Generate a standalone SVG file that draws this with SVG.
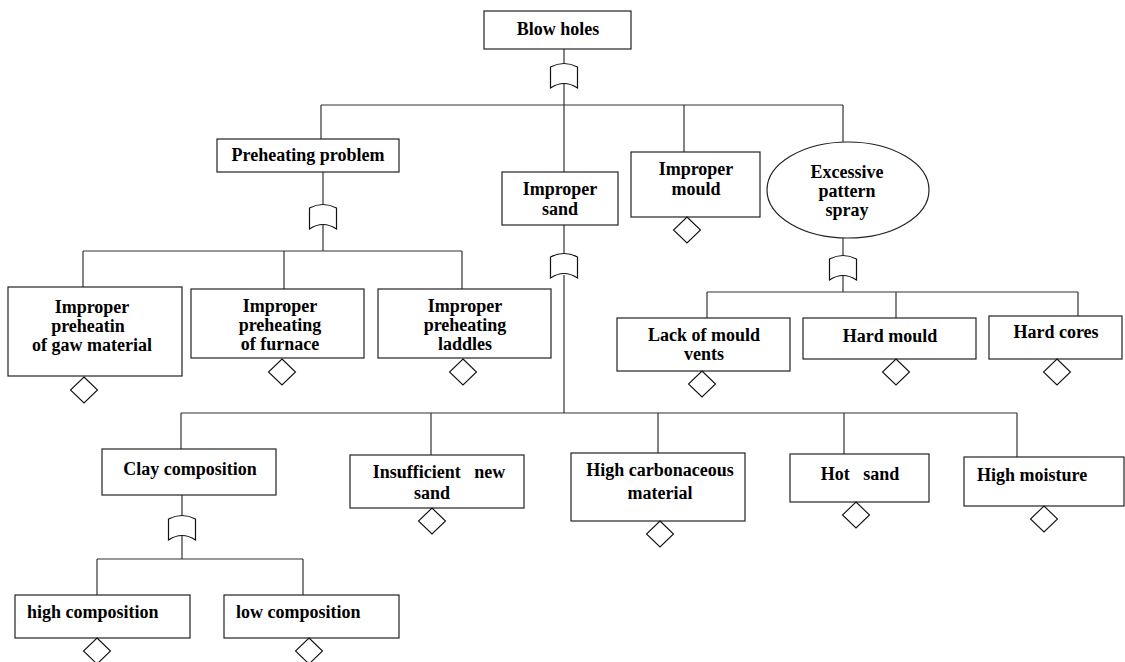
<svg xmlns="http://www.w3.org/2000/svg" width="1125" height="662" viewBox="0 0 1125 662">
<style>
.box{fill:#fff;stroke:#222;stroke-width:1.2}
.t{font-family:"Liberation Serif","Times New Roman",Times,serif;font-weight:700;font-size:18px;fill:#000;text-anchor:middle;white-space:pre}
.tl{text-anchor:start}
.c{fill:none;stroke:#333;stroke-width:1.2}
.g{fill:#fff;stroke:#111;stroke-width:1.2}
.d{fill:#fff;stroke:#111;stroke-width:1.1}
</style>
<defs>
<path id="gate" d="M-13.5,4 Q0,-3 13.5,4 L13.5,25 Q0,16 -13.5,25 Z"/>
<path id="dia" d="M0,0 L13.5,13 L0,26 L-13.5,13 Z"/>
</defs>
<g id="connectors">
<path class="c" d="M564,49 V63 M564,83 V172 M321,105 H843 M321,105 V139 M684,105 V152 M843,105 V142"/>
<path class="c" d="M323,172 V204 M323,225 V251 M83,251 H462 M83,251 V287 M284,251 V289 M462,251 V289"/>
<path class="c" d="M564,225 V253 M564,275 V413 M181,413 H1017 M181,413 V449 M431,413 V455 M658,413 V453 M844,413 V454 M1017,413 V457"/>
<path class="c" d="M843,238 V255 M843,276 V292 M707,292 H1078 M707,292 V318 M896,292 V318 M1078,292 V316"/>
<path class="c" d="M182,495 V515 M182,536 V559 M97,559 H303 M97,559 V595 M303,559 V595"/>
</g>
<g id="gates">
<use href="#gate" class="g" x="564" y="63"/>
<use href="#gate" class="g" x="323" y="204"/>
<use href="#gate" class="g" x="564" y="253"/>
<use href="#gate" class="g" x="843" y="255"/>
<use href="#gate" class="g" x="182" y="515"/>
</g>
<g id="n-blowholes"><rect class="box" x="484" y="11" width="147" height="38"/><text class="t" x="558" y="35">Blow holes</text></g>
<g id="n-preheating"><rect class="box" x="217" y="139" width="182" height="33"/><text class="t" x="308" y="161">Preheating problem</text></g>
<g id="n-sand"><rect class="box" x="502" y="172" width="116" height="53"/><text class="t" x="560" y="195">Improper</text><text class="t" x="560" y="215">sand</text></g>
<g id="n-mould"><rect class="box" x="631" y="152" width="129" height="65"/><text class="t" x="696" y="175">Improper</text><text class="t" x="696" y="195">mould</text><use href="#dia" class="d" x="687" y="217"/></g>
<g id="n-spray"><ellipse class="box" cx="848" cy="190" rx="81" ry="48"/><text class="t" x="847" y="178">Excessive</text><text class="t" x="847" y="197">pattern</text><text class="t" x="847" y="216">spray</text></g>
<g id="n-raw"><rect class="box" x="8" y="287" width="174" height="89"/><text class="t" x="92" y="313">Improper</text><text class="t" x="88" y="332">preheatin</text><text class="t" x="92" y="351">of gaw material</text><use href="#dia" class="d" x="84" y="377"/></g>
<g id="n-furnace"><rect class="box" x="191" y="289" width="173" height="69"/><text class="t" x="280" y="312">Improper</text><text class="t" x="280" y="331">preheating</text><text class="t" x="280" y="350">of furnace</text><use href="#dia" class="d" x="282" y="359"/></g>
<g id="n-laddles"><rect class="box" x="378" y="289" width="173" height="69"/><text class="t" x="465" y="312">Improper</text><text class="t" x="465" y="331">preheating</text><text class="t" x="465" y="350">laddles</text><use href="#dia" class="d" x="463" y="359"/></g>
<g id="n-vents"><rect class="box" x="617" y="318" width="173" height="53"/><text class="t" x="704" y="341">Lack of mould</text><text class="t" x="704" y="360">vents</text><use href="#dia" class="d" x="702" y="371"/></g>
<g id="n-hardmould"><rect class="box" x="803" y="318" width="173" height="41"/><text class="t" x="890" y="342">Hard mould</text><use href="#dia" class="d" x="896" y="359"/></g>
<g id="n-hardcores"><rect class="box" x="989" y="316" width="133" height="43"/><text class="t" x="1056" y="338">Hard cores</text><use href="#dia" class="d" x="1057" y="359"/></g>
<g id="n-clay"><rect class="box" x="102" y="449" width="174" height="46"/><text class="t" x="190" y="475">Clay composition</text></g>
<g id="n-newsand"><rect class="box" x="350" y="455" width="174" height="53"/><text class="t" x="439" y="478">Insufficient   new</text><text class="t" x="432" y="499">sand</text><use href="#dia" class="d" x="432" y="508"/></g>
<g id="n-carbon"><rect class="box" x="571" y="453" width="174" height="68"/><text class="t" x="660" y="476">High carbonaceous</text><text class="t" x="660" y="499">material</text><use href="#dia" class="d" x="660" y="521"/></g>
<g id="n-hotsand"><rect class="box" x="790" y="454" width="139" height="48"/><text class="t" x="860" y="480">Hot   sand</text><use href="#dia" class="d" x="856" y="502"/></g>
<g id="n-moisture"><rect class="box" x="964" y="457" width="160" height="49"/><text class="t tl" x="977" y="481">High moisture</text><use href="#dia" class="d" x="1044" y="506"/></g>
<g id="n-highcomp"><rect class="box" x="15" y="595" width="175" height="43"/><text class="t tl" x="27" y="618">high composition</text><use href="#dia" class="d" x="97" y="638"/></g>
<g id="n-lowcomp"><rect class="box" x="224" y="595" width="175" height="43"/><text class="t tl" x="236" y="618">low composition</text><use href="#dia" class="d" x="309" y="638"/></g>
</svg>
